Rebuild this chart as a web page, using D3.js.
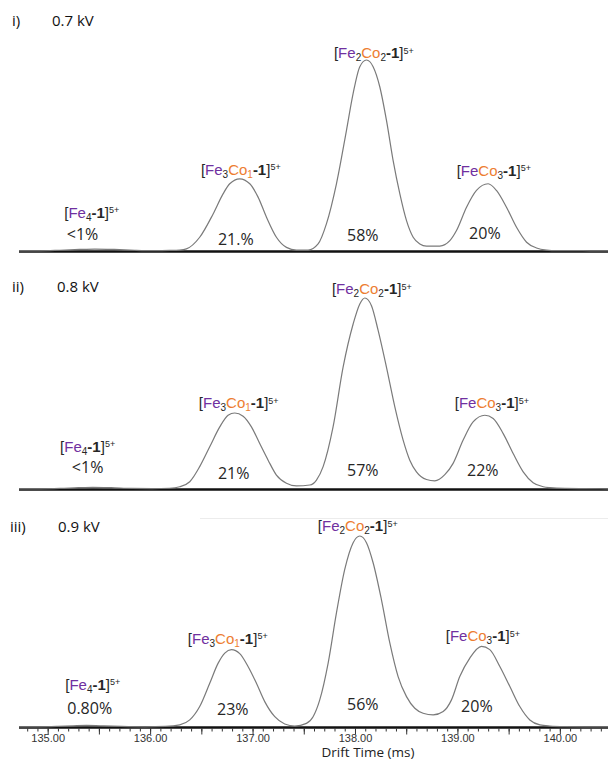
<!DOCTYPE html>
<html>
<head>
<meta charset="utf-8">
<script src="https://cdn.jsdelivr.net/npm/d3@7"></script>
<style>
  html, body { margin: 0; padding: 0; background: #fff; }
  svg { display: block; }
</style>
</head>
<body>
<svg id="chart" width="608" height="760"></svg>
<script>
// ---------- DATA ----------
const panelNames = ["i)", "ii)", "iii)"];
const voltages = ["0.7 kV", "0.8 kV", "0.9 kV"];

// Drift time (ms), relative intensity (% of the tallest peak)
const trace1 = [
  [134.72,0.1],[134.92,0.1],[135.12,0.4],[135.31,0.8],[135.46,1.0],[135.65,0.8],[135.85,0.4],[136.04,0.2],[136.19,0.3],
  [136.289,0.5],[136.354,1.1],[136.484,7.2],[136.615,19.4],[136.712,29.9],[136.777,35.2],[136.875,37.8],[136.973,35.2],
  [137.054,28.2],[137.136,17.7],[137.233,7.2],[137.331,1.9],[137.428,0.5],[137.542,0.5],[137.640,3.7],[137.721,14.2],
  [137.819,35.2],[137.917,63.2],[137.982,82.5],[138.047,96.5],[138.112,100],[138.177,96.5],[138.242,86],[138.307,68.5],
  [138.372,47.5],[138.438,29.9],[138.503,15.9],[138.568,7.2],[138.633,3.7],[138.698,2.6],[138.828,2.6],[138.926,5.4],
  [138.991,10.7],[139.089,22.9],[139.186,31.7],[139.300,35.2],[139.381,31.7],[139.479,22.9],[139.577,12.4],[139.675,4.6],
  [139.772,1.6],[139.870,0.5],[139.968,0.2],[140.15,0.2],[140.30,0.1],[140.47,0.1]
];
const trace2 = [
  [134.72,0.1],[134.92,0.1],[135.12,0.3],[135.30,0.7],[135.44,0.9],[135.62,0.7],[135.82,0.3],[136.02,0.2],[136.19,0.4],
  [136.289,1.2],[136.387,3.8],[136.484,11.7],[136.582,22.1],[136.680,32.5],[136.761,38.6],[136.826,39.8],[136.908,38.1],
  [136.989,32.5],[137.070,23.8],[137.152,15.1],[137.233,7.3],[137.331,3.0],[137.428,1.6],[137.559,2.1],[137.624,4.7],
  [137.689,11.7],[137.786,32.5],[137.884,63.8],[137.982,86.4],[138.047,96.9],[138.096,100],[138.161,96],[138.226,83],
  [138.307,63.8],[138.389,43],[138.470,25.6],[138.535,15.1],[138.600,9.0],[138.698,5.0],[138.779,4.3],[138.877,7.5],
  [138.958,13.4],[139.056,25.6],[139.153,35.1],[139.268,38.6],[139.349,36.9],[139.447,29.0],[139.544,18.6],[139.642,9.0],
  [139.739,3.3],[139.837,1.2],[139.902,0.7],[140.05,0.3],[140.25,0.2],[140.47,0.1]
];
const trace3 = [
  [134.72,0.1],[134.92,0.1],[135.10,0.3],[135.25,0.6],[135.38,0.8],[135.55,0.6],[135.72,0.3],[135.95,0.1],[136.15,0.3],
  [136.289,1.1],[136.387,3.7],[136.484,10.7],[136.582,22.9],[136.663,33.3],[136.729,38.7],[136.794,40.5],[136.875,38.4],
  [136.956,31.7],[137.038,22.9],[137.119,13.3],[137.217,5.4],[137.314,1.6],[137.412,0.5],[137.526,1.9],[137.591,5.4],
  [137.656,14.2],[137.738,33.5],[137.819,59.7],[137.900,82.5],[137.982,96.5],[138.047,100],[138.112,96.5],[138.177,86.0],
  [138.258,66.7],[138.340,44.0],[138.421,26.4],[138.503,15.9],[138.584,9.8],[138.665,7.2],[138.763,6.3],[138.861,8.1],
  [138.942,14.2],[139.023,26.4],[139.121,36.1],[139.235,42.2],[139.316,40.5],[139.414,31.7],[139.512,21.2],[139.609,10.7],
  [139.707,3.7],[139.805,1.1],[139.902,0.5],[140.05,0.2],[140.25,0.1],[140.47,0.1]
];
const traces = [trace1, trace2, trace3];

// Species annotations: [species key, drift time, intensity]
const species1 = [["Fe4",135.43,17.3],["Fe3Co1",136.885,39.8],["Fe2Co2",138.184,101],["FeCo3",139.355,39.3]];
const species2 = [["Fe4",135.39,19.6],["Fe3Co1",136.865,42.2],["Fe2Co2",138.164,102],["FeCo3",139.336,42.2]];
const species3 = [["Fe4",135.44,19.4],["Fe3Co1",136.758,43.5],["Fe2Co2",138.027,102.6],["FeCo3",139.248,45]];
const speciesLabels = [species1, species2, species3];

// Percentage annotations: [text, drift time, intensity]
const pct1 = [["<1%",135.34,5.8],["21.%",136.836,3.1],["58%",138.076,5.2],["20%",139.268,6.3]];
const pct2 = [["<1%",135.39,8.4],["21%",136.816,5.2],["57%",138.076,6.8],["22%",139.248,6.8]];
const pct3 = [["0.80%",135.41,6.8],["23%",136.807,6.3],["56%",138.076,8.9],["20%",139.19,7.9]];
const pctLabels = [pct1, pct2, pct3];

const tickValues = [135, 136, 137, 138, 139, 140];
const xLabel = "Drift Time (ms)";

// ---------- LAYOUT ----------
const W = 608, H = 760;
const purple = "#7030A0", orange = "#ED7D31", dark = "#262626";
const baselines = [251, 489, 727];
const peakPx = 191;
const titleY = [26, 292, 532];
const titleX = [[12, 52], [12, 57], [10, 58]];

const svg = d3.select("#chart");
const x = d3.scaleLinear().domain([134.72, 140.47]).range([19, 608]);

// species formula pieces
const formulas = {
  Fe4:    [["[",dark],["Fe",purple],["4",dark,"sub"],["-1",dark,"bold"],["]",dark],["5+",dark,"sup"]],
  Fe3Co1: [["[",dark],["Fe",purple],["3",dark,"sub"],["Co",orange],["1",orange,"sub"],["-1",dark,"bold"],["]",dark],["5+",dark,"sup"]],
  Fe2Co2: [["[",dark],["Fe",purple],["2",dark,"sub"],["Co",orange],["2",dark,"sub"],["-1",dark,"bold"],["]",dark],["5+",dark,"sup"]],
  FeCo3:  [["[",dark],["Fe",purple],["Co",orange],["3",dark,"sub"],["-1",dark,"bold"],["]",dark],["5+",dark,"sup"]]
};

// faint frame line above panel iii
svg.append("line").attr("x1", 200).attr("x2", 608).attr("y1", 518.5).attr("y2", 518.5)
  .attr("stroke", "#ececec").attr("stroke-width", 1);

traces.forEach((tr, i) => {
  const base = baselines[i];
  const y = d3.scaleLinear().domain([0, 100]).range([base, base - peakPx]);
  const g = svg.append("g");

  // panel title
  g.append("text").attr("x", titleX[i][0]).attr("y", titleY[i])
    .attr("font-family", "'Open Sans', sans-serif").attr("font-size", 15).attr("fill", "#111")
    .text(panelNames[i]);
  g.append("text").attr("x", titleX[i][1]).attr("y", titleY[i])
    .attr("font-family", "'Open Sans', sans-serif").attr("font-size", 15).attr("fill", "#111")
    .text(voltages[i]);

  // baseline axis line
  g.append("line").attr("x1", x.range()[0]).attr("x2", x.range()[1])
    .attr("y1", y(0) + 0.5).attr("y2", y(0) + 0.5)
    .attr("stroke", "#111").attr("stroke-width", 2.6);

  // trace
  const line = d3.line().x(d => x(d[0])).y(d => y(d[1])).curve(d3.curveMonotoneX);
  g.append("path").datum(tr).attr("d", line)
    .attr("fill", "none").attr("stroke", "#7a7a7a").attr("stroke-width", 1.2);

  // species labels
  speciesLabels[i].forEach(([key, t, v]) => {
    const txt = g.append("text").attr("x", x(t)).attr("y", y(v))
      .attr("text-anchor", "middle")
      .attr("font-family", "'Liberation Sans', Arial, sans-serif").attr("font-size", 15);
    let shift = 0;
    formulas[key].forEach(([s, c, kind]) => {
      const ts = txt.append("tspan").attr("fill", c).text(s);
      let target = 0;
      if (kind === "sub") { ts.attr("font-size", 10); target = 3; }
      else if (kind === "sup") { ts.attr("font-size", 9); target = -4.5; }
      else if (kind === "bold") { ts.attr("font-weight", "bold"); }
      if (target !== shift) { ts.attr("dy", target - shift); shift = target; }
    });
  });

  // percentage labels
  pctLabels[i].forEach(([s, t, v]) => {
    g.append("text").attr("x", x(t)).attr("y", y(v))
      .attr("text-anchor", "middle")
      .attr("font-family", "'Open Sans', sans-serif").attr("font-size", 16).attr("fill", "#262626")
      .text(s);
  });

  // bottom axis on last panel
  if (i === traces.length - 1) {
    const minor = d3.range(134.8, 140.45, 0.1);
    const axMinor = d3.axisBottom(x).tickValues(minor).tickSize(3).tickFormat("");
    const gm = svg.append("g").attr("transform", `translate(0,${base + 1.5})`).call(axMinor);
    gm.select(".domain").remove();
    gm.selectAll("line").attr("stroke", "#333");

    const half = d3.range(135, 140.45, 0.5);
    const axHalf = d3.axisBottom(x).tickValues(half).tickSize(6).tickFormat("");
    const gh = svg.append("g").attr("transform", `translate(0,${base + 1.5})`).call(axHalf);
    gh.select(".domain").remove();
    gh.selectAll("line").attr("stroke", "#333");

    const axMain = d3.axisBottom(x).tickValues(tickValues).tickSize(0).tickPadding(6)
      .tickFormat(d3.format(".2f"));
    const ga = svg.append("g").attr("transform", `translate(0,${base + 1.5})`).call(axMain);
    ga.select(".domain").remove();
    ga.selectAll("text").attr("font-family", "'Liberation Sans', Arial, sans-serif")
      .attr("font-size", 11).attr("fill", "#333");

    svg.append("text").attr("x", 368).attr("y", 757).attr("text-anchor", "middle")
      .attr("font-family", "'Open Sans', sans-serif").attr("font-size", 13.5).attr("fill", "#222")
      .text(xLabel);
  }
});
</script>
</body>
</html>
